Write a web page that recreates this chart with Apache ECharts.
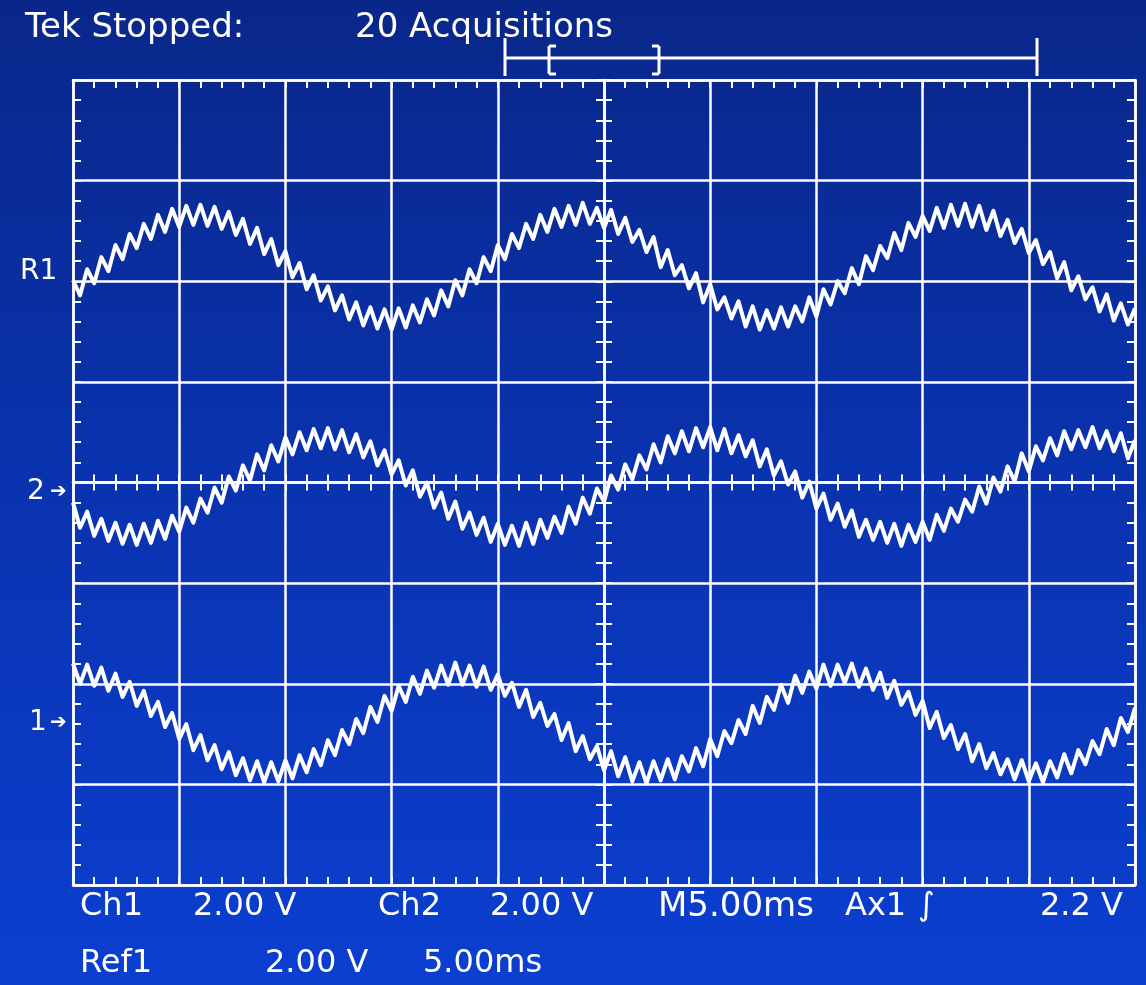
<!DOCTYPE html>
<html><head><meta charset="utf-8">
<script src="https://cdn.jsdelivr.net/npm/echarts@6/dist/echarts.min.js"></script>
<style>html,body{margin:0;padding:0;background:#0a2f9f;overflow:hidden}#c{width:1146px;height:985px}</style>
</head><body><div id="c"></div>
<script>
// ---- data (screen divisions, 0 = centre line; time in ms, 0 = trigger/centre) ----
const timeRangeMs = [-25, 25];       // 10 div x 5.00 ms
const divRange = [-4, 4];            // 8 vertical divisions
const sampleIntervalMs = 1 / 3;      // 15 samples per division
const traceNames = ['R1', 'Ch2', 'Ch1'];

const r1Values = [
 2.01,1.86,2.12,1.98,2.24,2.10,2.36,2.22,2.47,2.33,2.57,2.42,2.66,2.49,2.72,2.54,2.75,2.56,
 2.76,2.55,2.74,2.52,2.69,2.46,2.62,2.37,2.53,2.27,2.42,2.16,2.30,2.04,2.18,1.92,2.06,1.81,1.95,1.71,1.86,1.62,1.79,1.56,1.74,1.53,1.72,1.52,1.73,1.54,1.76,1.59,1.82,1.66,1.91,1.75,2.01,1.86,2.12,1.98,2.24,2.10,2.36,2.22,2.47,2.33,2.57,2.42,2.66,2.49,2.72,2.54,2.75,2.56,
 2.78,2.57,2.73,2.53,2.71,2.47,2.63,2.39,2.51,2.29,2.44,2.14,2.31,2.06,2.16,1.93,2.08,1.79,1.97,1.72,1.84,1.63,1.80,1.55,1.75,1.52,1.71,1.53,1.74,1.55,1.75,1.60,1.84,1.65,1.92,1.77,2.00,1.88,2.13,1.97,2.25,2.11,2.35,2.23,2.48,2.31,2.58,2.44,2.65,2.50,2.73,2.53,2.76,2.55,
 2.77,2.54,2.75,2.51,2.70,2.45,2.61,2.38,2.52,2.28,2.41,2.17,2.29,2.03,2.19,1.91,2.05,1.82,1.94,1.70,1.87,1.61,1.78,1.57,1.73
];
const ch2Values = [
 -0.20,-0.45,-0.29,-0.53,-0.36,-0.58,-0.40,-0.61,-0.42,-0.62,-0.41,-0.60,-0.38,-0.56,-0.33,-0.49,-0.25,-0.40,-0.16,-0.30,-0.05,-0.20,0.06,-0.08,0.17,0.02,0.28,0.12,0.37,0.21,0.45,0.28,0.50,0.32,0.53,0.34,0.54,0.33,0.52,0.30,0.48,0.25,0.41,0.17,0.32,0.08,0.22,-0.03,0.12,-0.14,0.00,-0.25,-0.10,-0.36,
 -0.19,-0.46,-0.30,-0.52,-0.35,-0.59,-0.41,-0.62,-0.43,-0.63,-0.40,-0.61,-0.37,-0.55,-0.34,-0.50,-0.24,-0.41,-0.15,-0.31,-0.06,-0.19,0.07,-0.07,0.18,0.03,0.27,0.13,0.38,0.20,0.46,0.29,0.51,0.31,0.54,0.35,0.55,0.32,0.53,0.29,0.47,0.26,0.42,0.16,0.33,0.07,0.21,-0.02,0.11,-0.15,0.01,-0.26,-0.11,-0.37,
 -0.21,-0.44,-0.28,-0.54,-0.37,-0.57,-0.39,-0.60,-0.41,-0.63,-0.42,-0.59,-0.39,-0.57,-0.32,-0.48,-0.26,-0.39,-0.17,-0.29,-0.04,-0.21,0.05,-0.09,0.16,0.01,0.29,0.11,0.36,0.22,0.44,0.27,0.51,0.33,0.52,0.35,0.55,0.34,0.51,0.31,0.49,0.24,0.42
];
const ch1Values = [
 -1.80,-2.00,-1.81,-2.02,-1.84,-2.07,-1.90,-2.13,-1.98,-2.22,-2.07,-2.32,-2.18,-2.43,-2.29,-2.55,-2.40,-2.66,-2.51,-2.76,-2.61,-2.85,-2.68,-2.91,-2.74,-2.96,-2.77,-2.98,-2.78,-2.97,-2.76,-2.94,-2.71,-2.88,-2.65,-2.81,-2.56,-2.71,-2.46,-2.60,-2.35,-2.49,-2.23,-2.38,-2.12,-2.27,-2.02,-2.18,-1.93,-2.10,-1.87,-2.04,-1.82,-2.01,
 -1.79,-2.01,-1.82,-2.03,-1.83,-2.06,-1.91,-2.12,-1.99,-2.23,-2.06,-2.33,-2.19,-2.42,-2.30,-2.56,-2.39,-2.67,-2.52,-2.75,-2.62,-2.86,-2.67,-2.92,-2.73,-2.97,-2.78,-2.99,-2.77,-2.96,-2.75,-2.95,-2.72,-2.87,-2.64,-2.82,-2.55,-2.72,-2.47,-2.59,-2.36,-2.50,-2.22,-2.39,-2.13,-2.26,-2.01,-2.19,-1.92,-2.09,-1.88,-2.05,-1.81,-2.02,
 -1.81,-1.99,-1.80,-2.03,-1.85,-2.06,-1.89,-2.14,-1.97,-2.21,-2.08,-2.31,-2.17,-2.44,-2.28,-2.54,-2.41,-2.65,-2.50,-2.77,-2.60,-2.84,-2.69,-2.90,-2.75,-2.95,-2.76,-2.97,-2.79,-2.98,-2.77,-2.93,-2.70,-2.89,-2.66,-2.80,-2.57,-2.70,-2.45,-2.61,-2.34,-2.48,-2.24
];

const headerTexts = ['Tek Stopped:', '20 Acquisitions'];
const statusRow1 = ['Ch1', '2.00 V', 'Ch2', '2.00 V', 'M5.00ms', 'Ax1', '\u222B', '2.2 V'];
const statusRow2 = ['Ref1', '2.00 V', '5.00ms'];
const markerLabels = ['R1', '2', '1'];

// ---- build ----
const chart = echarts.init(document.getElementById('c'), null, {renderer: 'canvas'});
const W = '#ffffff';
const toPairs = vals => vals.map((v, i) => [timeRangeMs[0] + i * sampleIntervalMs, v]);
const tick = {color: W, width: 2};

function axis(kind, position, onZero, inside, split) {
  const isX = kind === 'x';
  return {
    type: 'value', position,
    min: isX ? timeRangeMs[0] : divRange[0],
    max: isX ? timeRangeMs[1] : divRange[1],
    interval: isX ? 5 : 1,
    axisLabel: {show: false},
    axisLine: {show: true, onZero, onZeroAxisIndex: 0, lineStyle: {color: W, width: 2.5}},
    axisTick: {show: true, inside, length: 8, lineStyle: tick},
    minorTick: {show: true, splitNumber: 5, length: 8, lineStyle: tick},
    splitLine: {show: split, lineStyle: {color: W, width: 2.5}},
    minorSplitLine: {show: false}
  };
}

const font = s => s + 'px "DejaVu Sans"';
const txt = (text, x, y, size) => ({type: 'text', x, y, z: 20,
  style: {text, fill: W, font: font(size), verticalAlign: 'middle', align: 'left'}});
const seg = (x1, y1, x2, y2) => ({type: 'line', z: 20, shape: {x1, y1, x2, y2}, style: {stroke: W, lineWidth: 3}});

const row1X = [80, 193, 378, 490, 658, 845, 918, 1040];
const row1Size = [32, 32, 32, 32, 34, 32, 32, 32];
const row2X = [80, 265, 423];

const graphics = [
  txt(headerTexts[0], 25, 28, 34),
  txt(headerTexts[1], 355, 28, 34),
  ...statusRow1.map((t, i) => txt(t, row1X[i], 907, row1Size[i])),
  ...statusRow2.map((t, i) => txt(t, row2X[i], 964, 32)),
  txt(markerLabels[0], 20, 272, 28),
  txt(markerLabels[1], 27, 492, 28),
  txt('\u2794', 50, 492, 20),
  txt(markerLabels[2], 29, 723, 28),
  txt('\u2794', 50, 723, 20),
  // record view indicator
  seg(505, 58, 1037, 58), seg(505, 38, 505, 76), seg(1037, 38, 1037, 76),
  seg(549, 46, 549, 74), seg(549, 46, 556, 46), seg(549, 74, 556, 74),
  seg(659, 46, 659, 74), seg(652, 46, 659, 46), seg(652, 74, 659, 74)
];

const lineSeries = (name, vals) => ({
  name, type: 'line', xAxisIndex: 0, yAxisIndex: 0, data: toPairs(vals),
  showSymbol: false, symbol: 'none', smooth: false, z: 10,
  lineStyle: {color: W, width: 4, join: 'round'}, silent: true
});

chart.setOption({
  animation: false,
  backgroundColor: new echarts.graphic.LinearGradient(0, 0, 0, 1, [
    {offset: 0, color: '#09278a'}, {offset: 0.5, color: '#0a33b0'}, {offset: 1, color: '#0b3fd0'}
  ]),
  grid: {left: 73, right: 11, top: 80, bottom: 100, containLabel: false},
  xAxis: [
    axis('x', 'bottom', true, true, true),
    axis('x', 'bottom', true, false, false),
    axis('x', 'top', false, true, false),
    axis('x', 'bottom', false, true, false)
  ],
  yAxis: [
    axis('y', 'left', true, true, true),
    axis('y', 'left', true, false, false),
    axis('y', 'left', false, true, false),
    axis('y', 'right', false, true, false)
  ],
  series: [
    lineSeries(traceNames[0], r1Values),
    lineSeries(traceNames[1], ch2Values),
    lineSeries(traceNames[2], ch1Values)
  ],
  graphic: graphics
});
</script>
</body></html>
